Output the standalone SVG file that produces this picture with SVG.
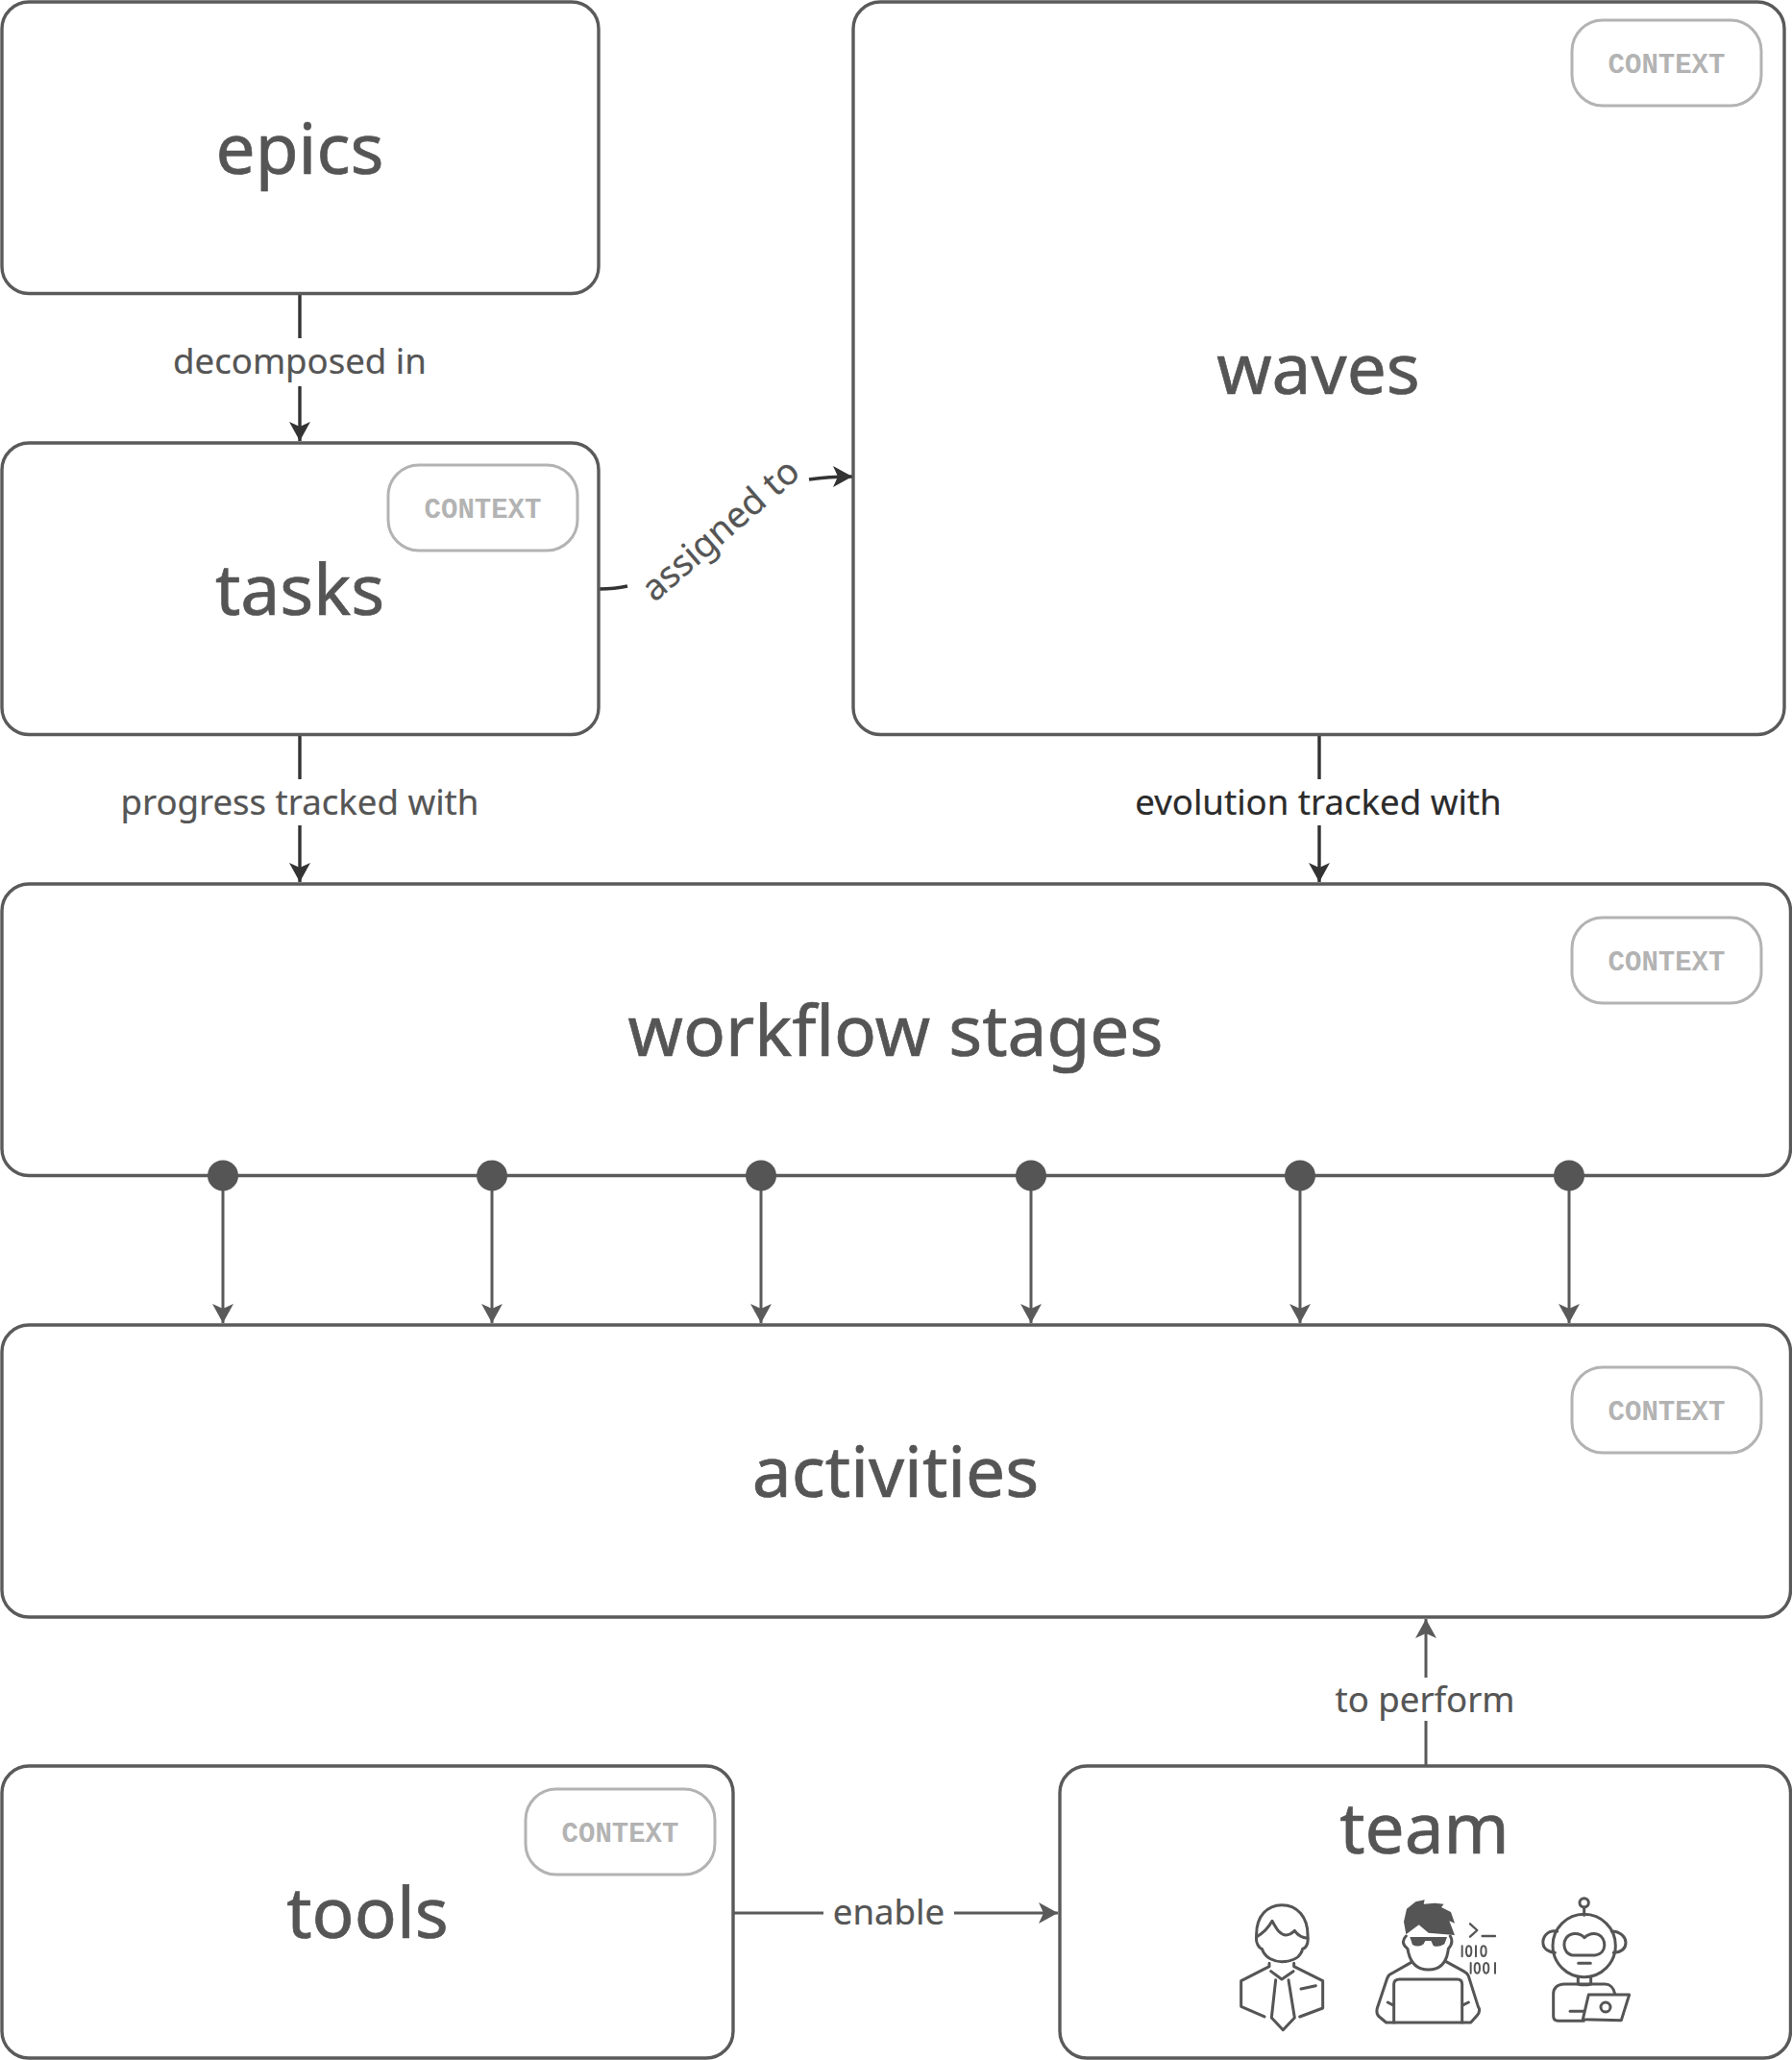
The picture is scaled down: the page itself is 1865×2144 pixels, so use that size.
<svg xmlns="http://www.w3.org/2000/svg" width="1865" height="2144" viewBox="0 0 1865 2144">
<style>
text{font-family:"Noto Sans","Open Sans",sans-serif;text-anchor:middle}
.box{fill:#fff;stroke:#5a5a5a;stroke-width:3.400}
.title{font-size:73px;fill:#555;stroke:#555;stroke-width:.7}
.lbl{font-size:36.600px;fill:#555;stroke:#555;stroke-width:.2}
.lbl.dark{fill:#2b2b2b;stroke:#2b2b2b}
.ctx rect{fill:#fff;stroke:#b3b3b3;stroke-width:3}
.ctx text{font-family:"Liberation Mono",monospace;font-weight:700;font-size:29px;fill:#b3b3b3}
.c{fill:none;stroke:#5a5a5a;stroke-width:3}
.k{fill:none;stroke:#333;stroke-width:3.400}
.i{fill:none;stroke:#555;stroke-width:9;stroke-linecap:round;stroke-linejoin:round}
.s{fill:#555}
</style>
<defs>
<marker id="a" markerUnits="userSpaceOnUse" markerWidth="24" markerHeight="26" refX="21" refY="13" orient="auto"><path d="M1 2 L21 13 L1 24 L6 13Z" fill="#333"/></marker>
<marker id="g" markerUnits="userSpaceOnUse" markerWidth="24" markerHeight="26" refX="21" refY="13" orient="auto"><path d="M1 2 L21 13 L1 24 L6 13Z" fill="#5a5a5a"/></marker>
<g id="ctxbadge" class="ctx"><rect x="0" y="0" width="197" height="89" rx="32"/><text x="98.500" y="55">CONTEXT</text></g>
</defs>
<g id="connectors">
<path class="k" d="M312 306V352M312 402V459" marker-end="url(#a)"/>
<path class="k" d="M312 765V811M312 859V918" marker-end="url(#a)"/>
<path class="k" d="M1373 765V811M1373 859V918" marker-end="url(#a)"/>
<path class="k" d="M624 613Q640 613 653 610"/>
<path class="k" d="M842 499Q862 496 887 496" marker-end="url(#a)"/>
<path class="c" d="M232 1224V1377" marker-end="url(#g)"/>
<path class="c" d="M512 1224V1377" marker-end="url(#g)"/>
<path class="c" d="M792 1224V1377" marker-end="url(#g)"/>
<path class="c" d="M1073 1224V1377" marker-end="url(#g)"/>
<path class="c" d="M1353 1224V1377" marker-end="url(#g)"/>
<path class="c" d="M1633 1224V1377" marker-end="url(#g)"/>
<path class="c" d="M1484 1838V1791M1484 1746V1685" marker-end="url(#g)"/>
<path class="c" d="M763 1991H857M993 1991H1101" marker-end="url(#g)"/>
</g>
<g id="epics"><rect class="box" x="2" y="2" width="621" height="303.500" rx="28"/><text class="title" x="312" y="181">epics</text></g>
<g id="tasks"><rect class="box" x="2" y="461" width="621" height="303.500" rx="28"/><text class="title" x="312" y="640">tasks</text><use href="#ctxbadge" x="404" y="484"/></g>
<g id="waves"><rect class="box" x="888" y="2" width="969" height="762.500" rx="28"/><text class="title" x="1372" y="410">waves</text><use href="#ctxbadge" x="1636" y="21"/></g>
<g id="workflow"><rect class="box" x="2" y="920" width="1861.500" height="303.500" rx="28"/><text class="title" x="932" y="1099">workflow stages</text><use href="#ctxbadge" x="1636" y="955"/>
<circle class="s" cx="232" cy="1223.500" r="16"/><circle class="s" cx="512" cy="1223.500" r="16"/><circle class="s" cx="792" cy="1223.500" r="16"/><circle class="s" cx="1073" cy="1223.500" r="16"/><circle class="s" cx="1353" cy="1223.500" r="16"/><circle class="s" cx="1633" cy="1223.500" r="16"/></g>
<g id="activities"><rect class="box" x="2" y="1379" width="1861.500" height="304" rx="28"/><text class="title" x="932" y="1558">activities</text><use href="#ctxbadge" x="1636" y="1423"/></g>
<g id="tools"><rect class="box" x="2" y="1838" width="761" height="304" rx="28"/><text class="title" x="382.500" y="2017">tools</text><use href="#ctxbadge" x="547" y="1862"/></g>
<g id="team"><rect class="box" x="1103" y="1838" width="760.500" height="304" rx="28"/><text class="title" x="1482.500" y="1929">team</text>
<g transform="translate(1260 1940) scale(.33333)">
<g id="manager" class="i">
<path d="M143 228C140 160 180 128 222 128C270 128 305 165 303 228C305 245 300 262 287 265C280 295 250 305 222 305C200 305 170 295 160 265C150 262 140 245 143 228Z"/>
<path d="M143 228C165 215 180 200 192 178C205 200 215 222 235 222C250 222 255 215 262 208C270 220 285 230 303 232"/>
<path d="M183 310V320L95 365V445L168 477M260 310V320L350 365V450L278 477"/>
<path d="M188 335L222 360L258 335M203 362L190 480L226 518L262 480L243 362M282 390L328 380"/>
</g>
<g id="developer">
<path class="s" d="M610 220L603 180L612 140L640 118L668 112L665 125L700 122L728 125L720 135L750 150L762 185L745 178L762 222L680 215L650 190Z"/>
<path class="s" d="M622 228H738L730 250Q710 262 695 255L688 240H670L665 250Q650 262 630 252Z"/>
<g class="i">
<path d="M610 225Q590 245 615 265Q625 330 680 330Q735 330 742 265Q760 245 748 225"/>
<path d="M625 308L565 342Q555 345 550 360L520 450Q515 470 530 480L548 495H812L830 475Q845 460 835 445L805 350Q800 340 790 335L735 305"/>
<path d="M572 495V375Q572 360 590 360H770Q785 360 785 375V495M553 432L572 442M805 432L785 442"/>
<path d="M810 187L832 207L810 227M848 225H888" stroke-width="7"/>
<g stroke-width="6"><path d="M785 256V289M828 256V289M812 309V341M888 309V341"/><ellipse cx="806" cy="272" rx="8" ry="16"/><ellipse cx="852" cy="272" rx="8" ry="16"/><ellipse cx="832" cy="325" rx="8" ry="16"/><ellipse cx="860" cy="325" rx="8" ry="16"/></g>
</g>
</g>
<g id="robot" class="i">
<circle cx="1166" cy="121" r="14"/><path d="M1166 135V160"/>
<circle cx="1166" cy="255" r="98"/>
<path d="M1082 210C1050 205 1035 230 1038 250C1040 265 1055 275 1075 277M1252 210C1280 210 1296 230 1296 245C1296 265 1280 275 1258 277"/>
<path d="M1130 218C1150 215 1160 222 1167 230C1180 218 1195 215 1210 220C1235 230 1240 280 1200 285H1130C1095 280 1095 225 1130 218Z"/>
<path d="M1148 310H1186M1147 352V375M1187 352V375M1147 375Q1166 380 1187 375"/>
<path d="M1262 405C1258 385 1245 375 1232 375H1105C1080 375 1070 390 1070 405V475C1070 485 1075 490 1085 490H1165M1122 460H1165"/>
<path d="M1180 408H1307L1282 488L1162 485Z"/>
<circle cx="1233" cy="447" r="15"/>
</g>
</g>
</g>
<g id="labels">
<text class="lbl" x="312" y="389">decomposed in</text>
<text class="lbl" x="312" y="848">progress tracked with</text>
<text class="lbl dark" x="1372" y="848">evolution tracked with</text>
<text class="lbl" transform="translate(758 561) rotate(-41)" style="font-size:37.500px">assigned to</text>
<text class="lbl" x="1483" y="1782">to perform</text>
<text class="lbl" x="925" y="2003">enable</text>
</g>
</svg>
